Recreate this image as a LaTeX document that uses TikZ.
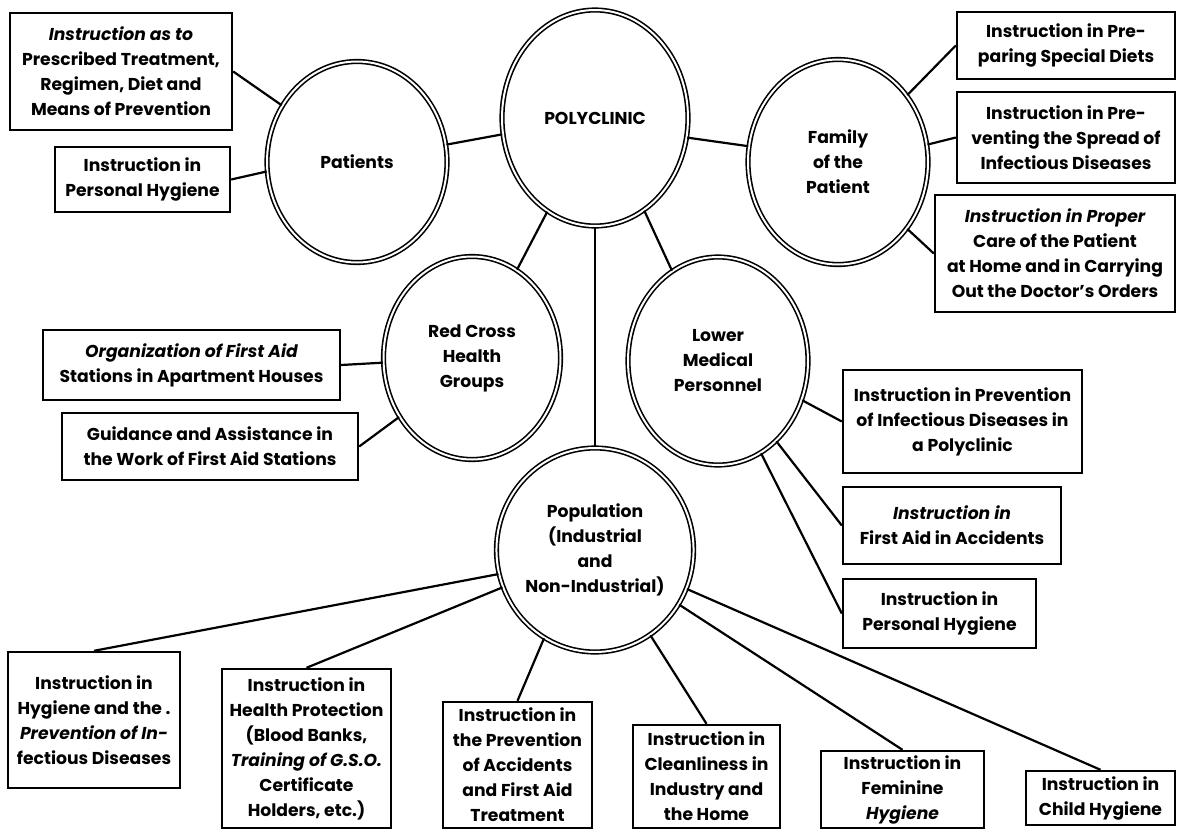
\documentclass[tikz,border=0pt]{standalone}
\usepackage{fontspec}
\setmainfont{Poppins}
\usetikzlibrary{shapes.geometric}
\begin{document}
\begin{tikzpicture}[x = 0.5pt, y = -0.5pt,
		every node/.style = {font = \fontsize{8.6}{12.5}\selectfont\bfseries, align = center},
		circ/.style = {ellipse, draw, double, line width = 0.8pt, double distance = 1pt, inner sep = 0pt, minimum width = 90pt, minimum height = 102pt},
		box/.style = {rectangle, draw, line width = 1.2pt, inner sep = 0pt},
		link/.style = {line width = 1.1pt}]
			\useasboundingbox (0,0) rectangle (1177,830);
			% circles
			\node[circ, minimum width = 93pt, minimum height = 108pt] (poly) at (595,118) {POLYCLINIC};
			\node[circ, minimum height = 100.5pt] (pat) at (357,162) {Patients};
			\node[circ, minimum height = 102.5pt] (fam) at (838,162) {Family\\of the\\Patient};
			\node[circ, minimum width = 88.5pt, minimum height = 101.5pt] (red) at (472,358) {Red Cross\\Health\\Groups};
			\node[circ, minimum height = 104pt] (low) at (718,361) {Lower\\Medical\\Personnel};
			\node[circ] (pop) at (595,550) {Population\\(Industrial\\and\\Non-Industrial)};
			% boxes of the patients
			\node[box, minimum width = 111pt, minimum height = 58.5pt] (pA) at (121,71.5) {{\itshape Instruction as to}\\Prescribed Treatment,\\Regimen, Diet and\\Means of Prevention};
			\node[box, minimum width = 87.5pt, minimum height = 32.5pt] (pB) at (142.5,179.5) {Instruction in\\Personal Hygiene};
			% boxes of the family
			\node[box, minimum width = 109pt, minimum height = 33.5pt] (fA) at (1066,45.5) {Instruction in Pre-\\paring Special Diets};
			\node[box, minimum width = 109pt, minimum height = 45.5pt] (fB) at (1066,137.5) {Instruction in Pre-\\venting the Spread of\\Infectious Diseases};
			\node[box, minimum width = 120pt, minimum height = 58.5pt] (fC) at (1055,253.5) {{\itshape Instruction in Proper}\\Care of the Patient\\at Home and in Carrying\\Out the Doctor’s Orders};
			% boxes of the red cross
			\node[box, minimum width = 148.5pt, minimum height = 35pt] (rA) at (191.5,365) {{\itshape Organization of First Aid}\\Stations in Apartment Houses};
			\node[box, minimum width = 148pt, minimum height = 33.5pt] (rB) at (210,446.5) {Guidance and Assistance in\\the Work of First Aid Stations};
			% boxes of the lower personnel
			\node[box, minimum width = 119.5pt, minimum height = 51.5pt] (lA) at (962.5,421.5) {Instruction in Prevention\\of Infectious Diseases in\\a Polyclinic};
			\node[box, minimum width = 109pt, minimum height = 38.5pt] (lB) at (952,525.5) {{\itshape Instruction in}\\First Aid in Accidents};
			\node[box, minimum width = 96.5pt, minimum height = 34.5pt] (lC) at (939.5,613.5) {Instruction in\\Personal Hygiene};
			% boxes of the population
			\node[box, minimum width = 86pt, minimum height = 68pt] (bA) at (94,720) {Instruction in\\Hygiene and the .\\{\itshape Prevention of In-}\\fectious Diseases};
			\node[box, minimum width = 84.5pt, minimum height = 79.5pt] (bB) at (306.5,748.5) {Instruction in\\Health Protection\\(Blood Banks,\\{\itshape Training of G.S.O.}\\Certificate\\Holders, etc.)};
			\node[box, minimum width = 74.5pt, minimum height = 63pt] (bC) at (517.5,765) {Instruction in\\the Prevention\\of Accidents\\and First Aid\\Treatment};
			\node[box, minimum width = 73.5pt, minimum height = 51.5pt] (bD) at (706.5,776.5) {Instruction in\\Cleanliness in\\Industry and\\the Home};
			\node[box, minimum width = 81.5pt, minimum height = 38.5pt] (bE) at (902.5,789.5) {Instruction in\\Feminine\\{\itshape Hygiene}};
			\node[box, minimum width = 74.5pt, minimum height = 27pt] (bF) at (1100.5,798) {Instruction in\\Child Hygiene};
			% connectors
			\draw[link] (poly.190) -- (pat.11);
			\draw[link] (poly.348) -- (fam.170);
			\draw[link] (poly.243) -- (red.63);
			\draw[link] (poly.south) -- (pop.north);
			\draw[link] (poly.298) -- (low.117);
			\draw[link] (pat.143) -- (pA.east);
			\draw[link] (pat.186) -- (pB.east);
			\draw[link] (fam.44) -- (fA.west);
			\draw[link] (fam.11) -- (fB.west);
			\draw[link] (fam.316) -- (fC.west);
			\draw[link] (red.183) -- (rA.east);
			\draw[link] (red.219) -- (rB.east);
			\draw[link] (low.335) -- (lA.west);
			\draw[link] (low.306) -- (lB.west);
			\draw[link] (low.295) -- (lC.west);
			\draw[link] (pop.194) -- (bA.north);
			\draw[link] (pop.202) -- (bB.north);
			\draw[link] (pop.240) -- (bC.north);
			\draw[link] (pop.303) -- (bD.north);
			\draw[link] (pop.327) -- (bE.north);
			\draw[link] (pop.337) -- (bF.north);
\end{tikzpicture}
\end{document}
